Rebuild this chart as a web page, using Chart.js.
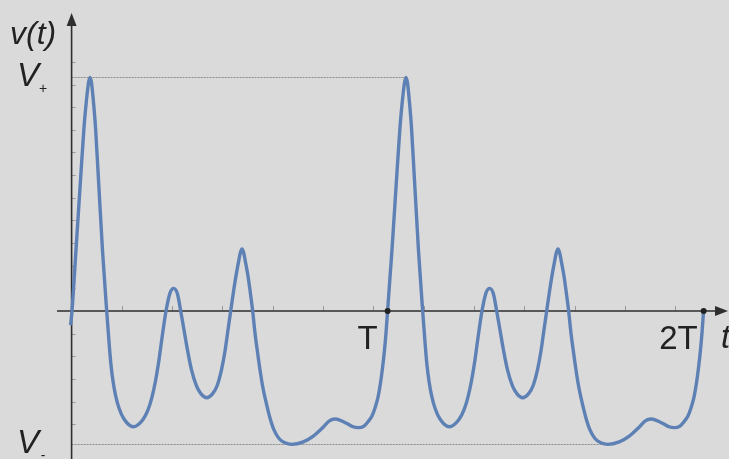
<!DOCTYPE html>
<html>
<head>
<meta charset="utf-8">
<script src="https://cdn.jsdelivr.net/npm/chart.js@4.4.1/dist/chart.umd.min.js"></script>
<style>
  html, body { margin: 0; padding: 0; background: #dadada; }
  canvas { display: block; }
</style>
</head>
<body>
<canvas id="chartContainer" width="729" height="459"></canvas>
<script>
"use strict";

// 1: data (t in units where T = 2pi, v in axis tick units)
let times = [
  -0.020, 0.008, 0.087, 0.177, 0.247, 0.296, 0.336, 0.366, 0.396, 0.431,
  0.475, 0.535, 0.614, 0.698, 0.744, 0.783, 0.823, 0.873, 0.942, 1.042,
  1.227, 1.420, 1.519, 1.598, 1.668, 1.728, 1.797, 1.877, 1.956, 2.030,
  2.105, 2.169, 2.235, 2.304, 2.384, 2.483, 2.573, 2.686, 2.801, 2.891,
  2.980, 3.050, 3.109, 3.163, 3.209, 3.268, 3.318, 3.354, 3.388, 3.422,
  3.457, 3.507, 3.557, 3.600, 3.646, 3.696, 3.746, 3.805, 3.875, 3.944,
  4.024, 4.123, 4.243, 4.376, 4.606, 4.805, 5.004, 5.117, 5.237, 5.356,
  5.469, 5.575, 5.700, 5.813, 5.903, 5.972, 6.032, 6.092, 6.141, 6.181,
  6.221, 6.251, 6.282,
  6.369, 6.459, 6.529, 6.578, 6.618, 6.648, 6.678, 6.713,
  6.757, 6.817, 6.896, 6.980, 7.026, 7.065, 7.105, 7.155, 7.224, 7.324,
  7.509, 7.702, 7.801, 7.880, 7.950, 8.010, 8.079, 8.159, 8.238, 8.312,
  8.387, 8.451, 8.517, 8.586, 8.666, 8.765, 8.855, 8.968, 9.083, 9.173,
  9.262, 9.332, 9.391, 9.445, 9.491, 9.550, 9.600, 9.636, 9.670, 9.704,
  9.739, 9.789, 9.839, 9.882, 9.928, 9.978, 10.028, 10.087, 10.157, 10.226,
  10.306, 10.405, 10.525, 10.658, 10.888, 11.087, 11.286, 11.399, 11.519, 11.638,
  11.751, 11.857, 11.982, 12.095, 12.185, 12.254, 12.314, 12.374, 12.423, 12.463,
  12.503, 12.533, 12.564
];
let voltages = [
  -0.62, 0, 2.69, 5.78, 8.12, 9.32, 10.07, 10.31, 10.07, 9.32,
  8.12, 5.78, 2.69, 0, -1.37, -2.38, -3.09, -3.71, -4.28, -4.77,
  -5.11, -4.79, -4.37, -3.80, -3.09, -2.30, -1.19, 0, 0.79, 1.00,
  0.75, 0, -0.84, -1.72, -2.60, -3.31, -3.66, -3.83, -3.66, -3.31,
  -2.60, -1.77, -0.84, 0, 0.71, 1.55, 2.16, 2.56, 2.74, 2.56,
  2.16, 1.55, 0.75, 0, -0.97, -1.81, -2.60, -3.40, -4.11, -4.72,
  -5.25, -5.63, -5.82, -5.89, -5.78, -5.52, -5.12, -4.86, -4.77, -4.84,
  -4.96, -5.09, -5.15, -5.08, -4.86, -4.64, -4.28, -3.80, -3.18, -2.52,
  -1.72, -0.97, 0,
  2.69, 5.78, 8.12, 9.32, 10.07, 10.31, 10.07, 9.32,
  8.12, 5.78, 2.69, 0, -1.37, -2.38, -3.09, -3.71, -4.28, -4.77,
  -5.11, -4.79, -4.37, -3.80, -3.09, -2.30, -1.19, 0, 0.79, 1.00,
  0.75, 0, -0.84, -1.72, -2.60, -3.31, -3.66, -3.83, -3.66, -3.31,
  -2.60, -1.77, -0.84, 0, 0.71, 1.55, 2.16, 2.56, 2.74, 2.56,
  2.16, 1.55, 0.75, 0, -0.97, -1.81, -2.60, -3.40, -4.11, -4.72,
  -5.25, -5.63, -5.82, -5.89, -5.78, -5.52, -5.12, -4.86, -4.77, -4.84,
  -4.96, -5.09, -5.15, -5.08, -4.86, -4.64, -4.28, -3.80, -3.18, -2.52,
  -1.72, -0.97, 0
];
let periodMarks = [6.283, 12.566];
let periodLabels = ['T', '2T'];
let levelValues = [10.31, -5.89];
let levelEnds = [6.648, 10.658];
let levelSubs = ['+', '-'];

// 2: drawing helpers
const FONT = '"Liberation Sans", Arial, sans-serif';

function tickValues(scale, step, lo, hi) {
  let vals = scale.ticks.map(t => t.value)
    .filter(v => Math.abs(v / step - Math.round(v / step)) < 1e-6);
  if (!vals.length) {
    for (let v = Math.ceil(scale.min / step) * step; v <= scale.max; v += step) vals.push(v);
  }
  return vals.filter(v => v >= lo && v <= hi && Math.abs(v) > 1e-6);
}

let axesPlugin = {
  id: 'axes',
  beforeDatasetsDraw(chart) {
    const ctx = chart.ctx;
    const xs = chart.scales.x;
    const ys = chart.scales.y;
    const x0 = xs.getPixelForValue(0);
    const y0 = ys.getPixelForValue(0);
    ctx.save();

    // dotted level lines
    ctx.strokeStyle = '#8c8c8c';
    ctx.lineWidth = 1;
    ctx.setLineDash([2, 1]);
    levelValues.forEach((v, i) => {
      const py = Math.round(ys.getPixelForValue(v)) + 0.5;
      ctx.beginPath();
      ctx.moveTo(x0, py);
      ctx.lineTo(xs.getPixelForValue(levelEnds[i]), py);
      ctx.stroke();
    });
    ctx.setLineDash([]);

    // tick marks
    ctx.strokeStyle = '#9a9a9a';
    ctx.lineWidth = 1;
    tickValues(xs, 0.5, 0, 12.6).forEach(v => {
      const px = Math.round(xs.getPixelForValue(v)) + 0.5;
      ctx.beginPath();
      ctx.moveTo(px, y0);
      ctx.lineTo(px, y0 - 5);
      ctx.stroke();
    });
    tickValues(ys, 1, -6, 11).forEach(v => {
      const py = Math.round(ys.getPixelForValue(v)) + 0.5;
      ctx.beginPath();
      ctx.moveTo(x0, py);
      ctx.lineTo(x0 + 4, py);
      ctx.stroke();
    });

    // axis lines and arrows
    ctx.strokeStyle = '#2e2e2e';
    ctx.fillStyle = '#2e2e2e';
    ctx.lineWidth = 1.6;
    ctx.beginPath();
    ctx.moveTo(57, y0);
    ctx.lineTo(718, y0);
    ctx.moveTo(x0, chart.chartArea.bottom);
    ctx.lineTo(x0, 22);
    ctx.stroke();

    ctx.beginPath();
    ctx.moveTo(728, y0);
    ctx.lineTo(715, y0 - 5);
    ctx.lineTo(715, y0 + 5);
    ctx.closePath();
    ctx.fill();
    ctx.beginPath();
    ctx.moveTo(x0, 13);
    ctx.lineTo(x0 - 5, 26);
    ctx.lineTo(x0 + 5, 26);
    ctx.closePath();
    ctx.fill();
    ctx.restore();
  },
  afterDatasetsDraw(chart) {
    const ctx = chart.ctx;
    const xs = chart.scales.x;
    const ys = chart.scales.y;
    const y0 = ys.getPixelForValue(0);
    ctx.save();
    ctx.fillStyle = '#222222';

    // period dots and labels
    periodMarks.forEach((t, i) => {
      const px = xs.getPixelForValue(t);
      ctx.beginPath();
      ctx.arc(px, y0, 3, 0, Math.PI * 2);
      ctx.fill();
      ctx.font = '33px ' + FONT;
      ctx.textAlign = 'right';
      ctx.textBaseline = 'alphabetic';
      ctx.fillText(periodLabels[i], px - (i === 0 ? 10 : 6), y0 + 38);
    });

    // level labels V+ / V-
    levelValues.forEach((v, i) => {
      const py = ys.getPixelForValue(v);
      ctx.font = 'italic 33px ' + FONT;
      ctx.textAlign = 'left';
      ctx.textBaseline = 'alphabetic';
      ctx.fillText('V', 17, py + 9);
      ctx.font = '14px ' + FONT;
      ctx.textAlign = 'center';
      ctx.textBaseline = 'middle';
      ctx.fillText(levelSubs[i], 43, py + 12);
    });

    // axis titles
    ctx.font = 'italic 32px ' + FONT;
    ctx.textAlign = 'left';
    ctx.textBaseline = 'alphabetic';
    ctx.fillText('v(t)', 10, 44);
    ctx.font = 'italic 33px ' + FONT;
    ctx.fillText('t', 721, y0 + 37);
    ctx.restore();
  }
};

// 3: create the chart
function appendChart() {
  let points = times.map((t, i) => ({ x: t, y: voltages[i] }));
  let chartContainer = document.getElementById('chartContainer');
  return new Chart(chartContainer, {
    type: 'line',
    data: {
      datasets: [{
        data: points,
        borderColor: '#5e81b5',
        borderWidth: 3.4,
        pointRadius: 0,
        fill: false,
        cubicInterpolationMode: 'monotone'
      }]
    },
    options: {
      responsive: false,
      animation: false,
      devicePixelRatio: 1,
      layout: { padding: 0 },
      plugins: { legend: { display: false }, tooltip: { enabled: false } },
      scales: {
        x: { type: 'linear', display: false, min: -1.4235, max: 13.070, ticks: { stepSize: 0.5 } },
        y: { type: 'linear', display: false, min: -6.534, max: 13.731, ticks: { stepSize: 1 } }
      }
    },
    plugins: [axesPlugin]
  });
}

appendChart();
</script>
</body>
</html>
